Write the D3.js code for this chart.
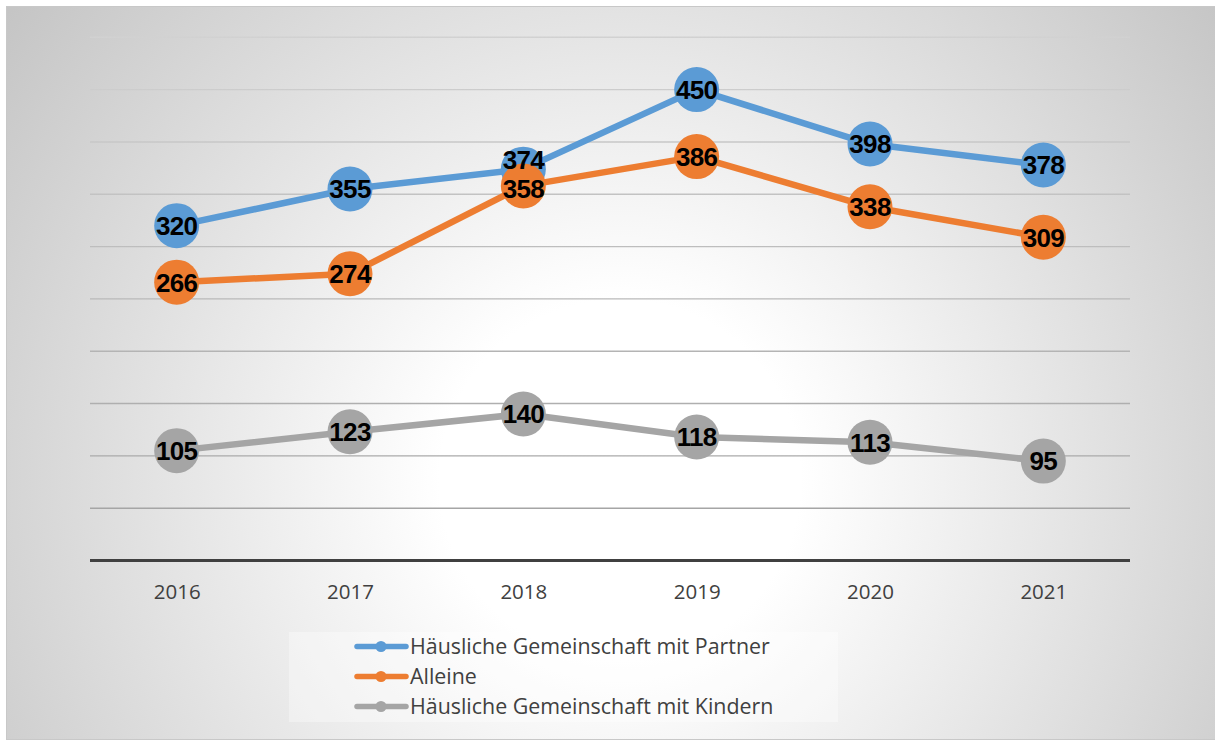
<!DOCTYPE html>
<html>
<head>
<meta charset="utf-8">
<script src="https://cdn.jsdelivr.net/npm/d3@7/dist/d3.min.js"></script>
<style>
  html, body { margin: 0; padding: 0; background: #fff; }
  svg { display: block; }
</style>
</head>
<body>
<svg id="chart" width="1215" height="740"></svg>
<script>
// Years on the category axis
const years = ["2016", "2017", "2018", "2019", "2020", "2021"];

// Series names and values
const seriesNames = [
  "Häusliche Gemeinschaft mit Partner",
  "Alleine",
  "Häusliche Gemeinschaft mit Kindern"
];
const partner = [320, 355, 374, 450, 398, 378];
const alleine = [266, 274, 358, 386, 338, 309];
const kinder  = [105, 123, 140, 118, 113, 95];
const seriesColors = ["#5b9bd5", "#ed7d31", "#a5a5a5"];

// Gridline values
const gridValues = [0, 50, 100, 150, 200, 250, 300, 350, 400, 450, 500];

const seriesData = [partner, alleine, kinder].map((vals, i) => ({
  name: seriesNames[i],
  color: seriesColors[i],
  values: vals.map((v, j) => ({ year: years[j], value: v }))
}));

const svg = d3.select("#chart");
const W = 1215, H = 740;

// Background panel with soft radial shading
const defs = svg.append("defs");
const bg = defs.append("radialGradient")
  .attr("id", "bgGrad")
  .attr("gradientUnits", "userSpaceOnUse")
  .attr("cx", 620).attr("cy", 480).attr("r", 820);
bg.append("stop").attr("offset", "0").attr("stop-color", "#ffffff");
bg.append("stop").attr("offset", "0.22").attr("stop-color", "#ffffff");
bg.append("stop").attr("offset", "1").attr("stop-color", "#c0c0c0");

const grid = defs.append("linearGradient")
  .attr("id", "gridGrad")
  .attr("gradientUnits", "userSpaceOnUse")
  .attr("x1", 0).attr("y1", 30).attr("x2", 0).attr("y2", 520);
grid.append("stop").attr("offset", "0").attr("stop-color", "#d2d2d2");
grid.append("stop").attr("offset", "1").attr("stop-color", "#a4a4a4");

svg.append("rect")
  .attr("x", 6.5).attr("y", 6.5)
  .attr("width", W - 6).attr("height", H - 7)
  .attr("fill", "url(#bgGrad)")
  .attr("stroke", "#c8c8c8")
  .attr("stroke-width", 1);

// Plot area
const plot = { left: 90, right: 1130, top: 37.3, bottom: 560.5 };

const x = d3.scalePoint()
  .domain(years)
  .range([plot.left, plot.right])
  .padding(0.5);

const y = d3.scaleLinear()
  .domain([0, 500])
  .range([plot.bottom, plot.top]);

// Horizontal gridlines
svg.append("g")
  .selectAll("line")
  .data(gridValues.filter(v => v > 0))
  .join("line")
  .attr("x1", plot.left).attr("x2", plot.right)
  .attr("y1", d => y(d)).attr("y2", d => y(d))
  .attr("stroke", "url(#gridGrad)")
  .attr("stroke-width", 1.4);

// Category axis
const xAxis = svg.append("g")
  .attr("transform", `translate(0,${y(0)})`)
  .call(d3.axisBottom(x).tickSize(0).tickPadding(24));
xAxis.select(".domain")
  .attr("d", `M${plot.left},0H${plot.right}`)
  .attr("stroke", "#404040")
  .attr("stroke-width", 3.2);
xAxis.selectAll("text")
  .attr("font-family", "'Open Sans', sans-serif")
  .attr("font-size", 20.5)
  .attr("fill", "#404040");

// Lines
const line = d3.line()
  .x(d => x(d.year))
  .y(d => y(d.value));

svg.append("g")
  .selectAll("path")
  .data(seriesData)
  .join("path")
  .attr("d", d => line(d.values))
  .attr("fill", "none")
  .attr("stroke", d => d.color)
  .attr("stroke-width", 6.5)
  .attr("stroke-linejoin", "round");

// Markers
const markerGroups = svg.append("g")
  .selectAll("g")
  .data(seriesData)
  .join("g")
  .attr("fill", d => d.color);
markerGroups.selectAll("circle")
  .data(d => d.values)
  .join("circle")
  .attr("cx", d => x(d.year))
  .attr("cy", d => y(d.value))
  .attr("r", 22.5);

// Data labels, centred on markers; close labels in one column are pushed
// apart (mostly by lifting the upper one)
const labels = [];
seriesData.forEach((s, si) => s.values.forEach(d => {
  labels.push({ si, year: d.year, value: d.value, ly: y(d.value) });
}));
const minGap = 29;
years.forEach(yr => {
  const col = labels.filter(l => l.year === yr).sort((a, b) => b.ly - a.ly);
  for (let i = 1; i < col.length; i++) {
    const gap = col[i - 1].ly - col[i].ly;
    if (gap < minGap) {
      const need = minGap - gap;
      col[i - 1].ly += need * 0.25;
      col[i].ly -= need * 0.75;
    }
  }
});

svg.append("g")
  .selectAll("text")
  .data(labels)
  .join("text")
  .attr("x", d => x(d.year))
  .attr("y", d => d.ly)
  .attr("dy", "0.36em")
  .attr("text-anchor", "middle")
  .attr("font-family", "'Liberation Sans', Arial, sans-serif")
  .attr("font-weight", "bold")
  .attr("font-size", 26)
  .attr("letter-spacing", -0.7)
  .attr("fill", "#000")
  .text(d => d.value);

// Legend
const legend = svg.append("g");
legend.append("rect")
  .attr("x", 289).attr("y", 632)
  .attr("width", 549).attr("height", 90)
  .attr("fill", "#ffffff")
  .attr("opacity", 0.35);

const legendRows = legend.selectAll("g")
  .data(seriesData)
  .join("g")
  .attr("transform", (d, i) => `translate(0,${646.5 + i * 30})`);
legendRows.append("line")
  .attr("x1", 357).attr("x2", 406)
  .attr("y1", 0).attr("y2", 0)
  .attr("stroke", d => d.color)
  .attr("stroke-width", 5.5)
  .attr("stroke-linecap", "round");
legendRows.append("circle")
  .attr("cx", 381).attr("cy", 0).attr("r", 5.5)
  .attr("fill", d => d.color);
legendRows.append("text")
  .attr("x", 410).attr("y", 0)
  .attr("dy", "0.35em")
  .attr("font-family", "'Open Sans', sans-serif")
  .attr("font-size", 21.4)
  .attr("fill", "#404040")
  .text(d => d.name);
</script>
</body>
</html>
